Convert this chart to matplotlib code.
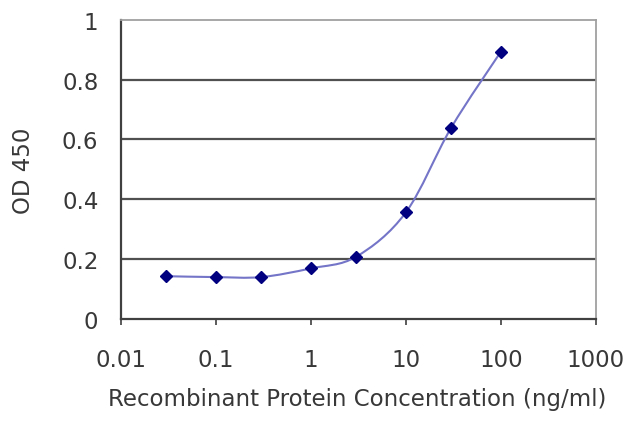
import numpy as np
import matplotlib
matplotlib.use("Agg")
import matplotlib.pyplot as plt
from matplotlib.path import Path
from matplotlib.patches import PathPatch

conc = [0.03, 0.1, 0.3, 1, 3, 10, 30, 100]
od = [0.143, 0.140, 0.140, 0.169, 0.208, 0.356, 0.639, 0.893]
xticks = [0.01, 0.1, 1, 10, 100, 1000]
xticklabels = ["0.01", "0.1", "1", "10", "100", "1000"]
yticks = [0, 0.2, 0.4, 0.6, 0.8, 1]
yticklabels = ["0", "0.2", "0.4", "0.6", "0.8", "1"]

plt.rcParams['font.family'] = ['DejaVu Sans']
txt = '#383838'
fs = 16.5

fig = plt.figure(figsize=(6.4, 4.27), dpi=100)
ax = fig.add_axes([0.1886, 0.2506, 0.7425, 0.701])
ax.set_xscale('log')
ax.set_xlim(0.01, 1000)
ax.set_ylim(0, 1)

for v in yticks[1:-1]:
    ax.axhline(v, color='#505050', lw=1.6, zorder=1)

# smooth (Excel-style) line through the data points
lx = np.log10(conc)
yy = np.array(od)
n = len(lx)
verts = [(conc[0], od[0])]
codes = [Path.MOVETO]
for i in range(n - 1):
    p0 = max(i - 1, 0); p3 = min(i + 2, n - 1)
    c1x = lx[i] + (lx[i + 1] - lx[p0]) / 6
    c1y = yy[i] + (yy[i + 1] - yy[p0]) / 6
    c2x = lx[i + 1] - (lx[p3] - lx[i]) / 6
    c2y = yy[i + 1] - (yy[p3] - yy[i]) / 6
    verts += [(10 ** c1x, c1y), (10 ** c2x, c2y), (conc[i + 1], od[i + 1])]
    codes += [Path.CURVE4] * 3
ax.add_patch(PathPatch(Path(verts, codes), fill=False, edgecolor='#7474c8',
                       lw=1.5, zorder=2, transform=ax.transData))
ax.plot(conc, od, linestyle='none', marker='D', markersize=6.5,
        color='#000080', zorder=3)

for s in ['left', 'bottom']:
    ax.spines[s].set_color('#404040')
    ax.spines[s].set_linewidth(1.6)
for s in ['top', 'right']:
    ax.spines[s].set_color('#a0a0a0')
    ax.spines[s].set_linewidth(1.3)

ax.set_xticks(xticks)
ax.set_xticklabels(xticklabels)
ax.xaxis.set_minor_locator(matplotlib.ticker.NullLocator())
ax.set_yticks(yticks)
ax.set_yticklabels(yticklabels)
ax.tick_params(axis='x', length=4, width=1.2, color='#404040', direction='out',
               pad=17, labelsize=fs, labelcolor=txt)
ax.tick_params(axis='y', length=0, pad=16, labelsize=fs, labelcolor=txt)

ax.set_xlabel('Recombinant Protein Concentration (ng/ml)', fontsize=fs, color=txt)
ax.xaxis.label.set_va('center')
ax.xaxis.set_label_coords(0.498, -0.267)
ax.set_ylabel('OD 450', fontsize=fs, color=txt)
ax.yaxis.label.set_va('center')
ax.yaxis.set_label_coords(-0.205, 0.5)

fig.savefig('out.png', dpi=100)
